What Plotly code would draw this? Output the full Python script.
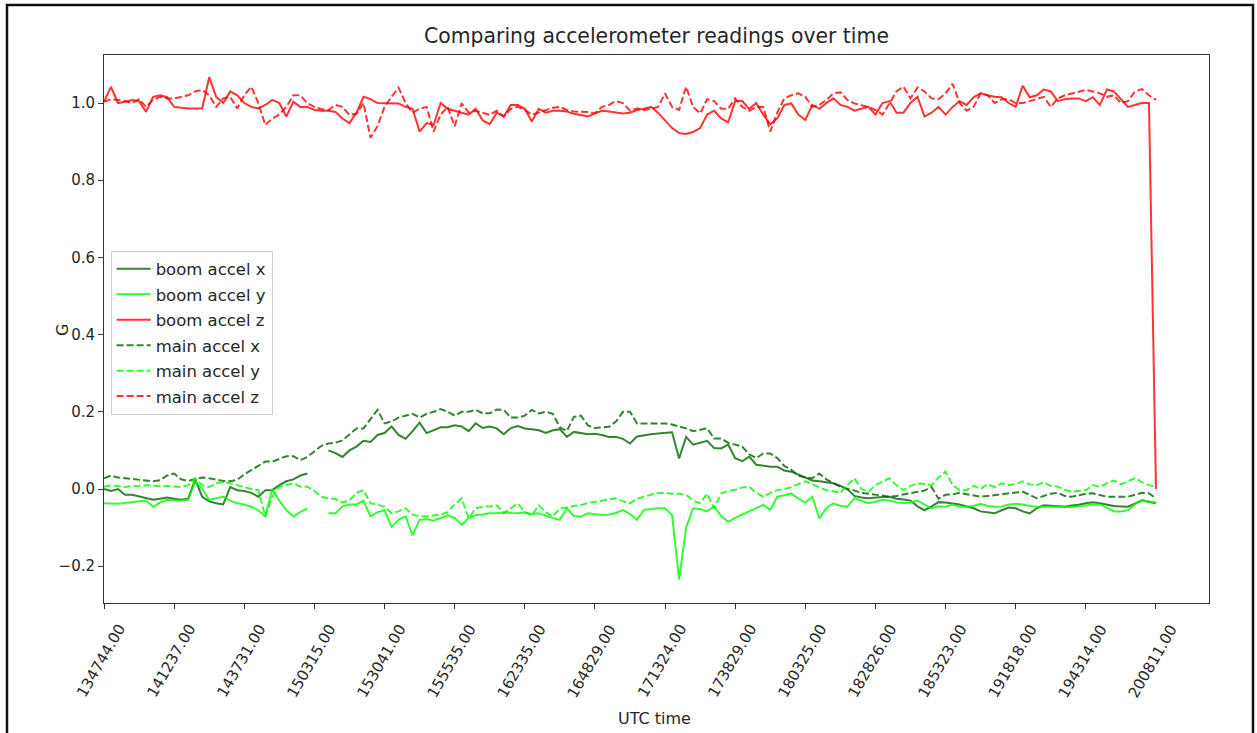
import plotly.graph_objects as go

nan = None

tick_labels = ["134744.00", "141237.00", "143731.00", "150315.00", "153041.00", "155535.00",
               "162335.00", "164829.00", "171324.00", "173829.00", "180325.00", "182826.00",
               "185323.00", "191818.00", "194314.00", "200811.00"]

boom_x = [
    0.0, -0.005, 0.0, -0.015, -0.015, -0.02, -0.025, -0.028, -0.025, -0.022,
    -0.025, -0.028, -0.025, 0.025, -0.02, -0.032, -0.037, -0.04, 0.005, -0.003,
    -0.005, -0.01, -0.02, -0.003, -0.003, 0.01, 0.02, 0.025, 0.035, 0.04,
    nan, nan, 0.1, 0.093, 0.083, 0.1, 0.11, 0.125, 0.122, 0.14,
    0.145, 0.162, 0.14, 0.13, 0.15, 0.172, 0.145, 0.152, 0.16, 0.16,
    0.165, 0.162, 0.15, 0.17, 0.158, 0.162, 0.157, 0.142, 0.158, 0.163,
    0.157, 0.155, 0.152, 0.145, 0.152, 0.155, 0.135, 0.148, 0.145, 0.142,
    0.143, 0.14, 0.135, 0.135, 0.13, 0.118, 0.136, 0.14, 0.142, 0.144,
    0.146, 0.147, 0.079, 0.135, 0.115, 0.12, 0.125, 0.106, 0.105, 0.115,
    0.08, 0.072, 0.084, 0.063, 0.06, 0.058, 0.058, 0.048, 0.045, 0.038,
    0.03, 0.022, 0.02, 0.017, 0.015, 0.008, 0.0, -0.018, -0.022, -0.024,
    -0.022, -0.021, -0.02, -0.025, -0.027, -0.03, -0.045, -0.055, -0.045, -0.034,
    -0.035, -0.037, -0.04, -0.045, -0.05, -0.058, -0.06, -0.063, -0.055, -0.048,
    -0.05, -0.058, -0.063, -0.05, -0.042, -0.043, -0.045, -0.046, -0.043, -0.041,
    -0.037, -0.034, -0.037, -0.04, -0.044, -0.045, -0.046, -0.038, -0.029, -0.033,
    -0.037]

boom_y = [
    -0.037, -0.038, -0.038, -0.036, -0.034, -0.032, -0.03, -0.046, -0.035, -0.028,
    -0.03, -0.03, -0.028, 0.02, 0.0, -0.028, -0.024, -0.02, -0.03, -0.037,
    -0.04, -0.046, -0.055, -0.071, 0.0, -0.03, -0.055, -0.071, -0.06, -0.05,
    nan, nan, -0.063, -0.063, -0.045, -0.04, -0.04, -0.03, -0.071, -0.06,
    -0.055, -0.098, -0.08, -0.071, -0.12, -0.08, -0.078, -0.082, -0.075, -0.068,
    -0.075, -0.093, -0.075, -0.067, -0.066, -0.063, -0.063, -0.06, -0.062, -0.063,
    -0.06, -0.065, -0.063, -0.07, -0.075, -0.08, -0.05, -0.07, -0.072, -0.063,
    -0.065, -0.067, -0.066, -0.062, -0.054, -0.065, -0.08, -0.054, -0.052, -0.05,
    -0.05, -0.067, -0.235, -0.1, -0.05, -0.052, -0.058, -0.045, -0.07, -0.085,
    -0.075, -0.067, -0.058, -0.05, -0.041, -0.054, -0.02, -0.016, -0.012, -0.025,
    -0.035, -0.02, -0.076, -0.05, -0.037, -0.044, -0.046, -0.024, -0.03, -0.037,
    -0.033, -0.028, -0.03, -0.035, -0.036, -0.035, -0.03, -0.04, -0.05, -0.045,
    -0.046, -0.04, -0.046, -0.046, -0.044, -0.038, -0.044, -0.046, -0.045, -0.04,
    -0.038, -0.04, -0.044, -0.046, -0.046, -0.045, -0.046, -0.046, -0.047, -0.045,
    -0.042, -0.04, -0.04, -0.05, -0.058, -0.058, -0.055, -0.04, -0.03, -0.033,
    -0.035]

boom_z = [
    1.003, 1.042, 1.0, 1.003, 1.008, 1.005, 0.977, 1.016, 1.02, 1.015,
    0.99, 0.988, 0.986, 0.986, 0.986, 1.067, 1.016, 1.0, 1.03, 1.02,
    1.0, 0.99, 0.986, 0.995, 1.008, 1.0, 0.965, 1.003, 0.99, 0.99,
    0.982, 0.98, 0.98, 0.977, 0.96, 0.948, 0.975, 1.016, 1.01, 1.0,
    1.0, 0.999, 0.999, 0.99, 0.985, 0.926, 0.948, 0.943, 1.0, 0.985,
    0.98, 0.975, 0.97, 0.985, 0.955, 0.945, 0.975, 0.965, 0.995, 0.995,
    0.985, 0.952, 0.985, 0.975, 0.98, 0.98, 0.978, 0.972, 0.968, 0.965,
    0.973, 0.98, 0.978, 0.976, 0.973, 0.975, 0.982, 0.985, 0.99, 0.975,
    0.955, 0.935, 0.922, 0.92, 0.925, 0.935, 0.97, 0.98, 0.96, 0.95,
    1.005, 1.005, 0.985, 1.0, 0.97, 0.945, 0.96, 0.995, 0.999, 0.97,
    0.956, 0.995, 0.985, 1.0, 1.012, 0.995, 0.99, 0.98, 0.985, 0.99,
    0.97, 1.0, 1.005, 0.975, 0.975, 1.0, 1.016, 0.965, 0.975, 0.99,
    0.97, 0.99, 1.005, 0.995, 1.015, 1.025, 1.02, 1.016, 1.015, 1.0,
    0.99, 1.045, 1.015, 1.02, 1.035, 1.03, 1.005, 1.01, 1.012, 1.012,
    1.005, 1.015, 0.995, 1.035, 1.03, 1.01, 0.99, 0.995, 1.0, 1.0,
    0.0]

main_x = [
    0.028, 0.035, 0.03, 0.028, 0.026, 0.025, 0.022, 0.02, 0.023, 0.035,
    0.04, 0.025, 0.021, 0.025, 0.03, 0.028, 0.025, 0.021, 0.02, 0.024,
    0.038, 0.048, 0.06, 0.071, 0.071, 0.078, 0.085, 0.085, 0.075, 0.083,
    0.097, 0.112, 0.118, 0.12, 0.126, 0.141, 0.157, 0.157, 0.18, 0.205,
    0.17, 0.175, 0.185, 0.19, 0.195, 0.185, 0.195, 0.2, 0.207, 0.2,
    0.19, 0.2, 0.2, 0.205, 0.196, 0.196, 0.206, 0.205, 0.185, 0.185,
    0.19, 0.205, 0.196, 0.2, 0.195, 0.16, 0.15, 0.187, 0.19, 0.165,
    0.158, 0.16, 0.161, 0.175, 0.2, 0.2, 0.17, 0.17, 0.17, 0.17,
    0.17, 0.167, 0.163, 0.157, 0.15, 0.153, 0.157, 0.131, 0.131, 0.12,
    0.114, 0.11, 0.09, 0.08, 0.092, 0.092, 0.08, 0.06, 0.05, 0.035,
    0.03, 0.028, 0.04, 0.025, 0.015, 0.006, 0.0, -0.004, -0.01, -0.012,
    -0.014, -0.017, -0.02, -0.018, -0.014, -0.01, -0.006, -0.004, 0.005, -0.025,
    -0.015, -0.014, -0.01, -0.014, -0.018, -0.02, -0.018, -0.016, -0.014, -0.012,
    -0.01, -0.007, -0.015, -0.024, -0.018, -0.012, -0.01, -0.018, -0.02, -0.016,
    -0.012, -0.011, -0.016, -0.02, -0.02, -0.02, -0.02, -0.015, -0.01, -0.011,
    -0.025]

main_y = [
    0.006, 0.01, 0.008, 0.005, 0.008, 0.008, 0.01, 0.008, 0.007, 0.008,
    0.006, 0.005, 0.01, 0.028, 0.01, 0.005, 0.015, 0.018, 0.015, 0.01,
    0.005, 0.0, -0.003, -0.071, -0.02, 0.006, 0.01, 0.015, 0.006, 0.006,
    -0.005, -0.02, -0.024, -0.026, -0.035, -0.03, -0.01, -0.003, -0.037, -0.04,
    -0.046, -0.063, -0.058, -0.05, -0.067, -0.07, -0.071, -0.068, -0.066, -0.06,
    -0.04, -0.024, -0.076, -0.05, -0.046, -0.045, -0.042, -0.063, -0.05, -0.037,
    -0.06, -0.068, -0.042, -0.06, -0.071, -0.05, -0.048, -0.044, -0.042, -0.036,
    -0.033, -0.03, -0.026, -0.024, -0.032, -0.037, -0.025, -0.02, -0.015, -0.01,
    -0.01, -0.012, -0.012, -0.015, -0.03, -0.037, -0.012, -0.05, -0.012, -0.005,
    -0.002, 0.004, 0.006, -0.01, -0.02, -0.01, -0.003, 0.0, 0.005, 0.012,
    0.02, 0.012, 0.005, -0.003, -0.006, -0.01, 0.01, 0.028, 0.0, -0.007,
    0.01, 0.02, 0.028, 0.01, -0.003, 0.008, 0.015, 0.013, 0.01, 0.03,
    0.045, 0.01, -0.003, -0.003, 0.008, 0.0, 0.012, 0.005, 0.015, 0.01,
    0.013, 0.02, 0.012, 0.01, 0.018, 0.008, 0.006, -0.002, -0.007, -0.005,
    -0.003, 0.01, 0.005, 0.015, 0.022, 0.012, 0.02, 0.028, 0.018, 0.01,
    0.006]

main_z = [
    1.003, 1.01, 1.008, 1.005, 1.0, 1.01, 0.99, 1.008, 1.016, 1.012,
    1.012, 1.016, 1.02, 1.03, 1.034, 1.02, 0.99, 1.012, 1.016, 0.986,
    1.02, 1.042, 1.0, 0.943, 0.96, 0.97, 0.99, 1.02, 1.02, 0.999,
    0.99, 0.984, 0.982, 0.995, 0.99, 0.969, 0.972, 1.0, 0.91, 0.94,
    0.99, 1.016, 1.04, 1.0, 0.975, 0.985, 0.99, 0.926, 0.97, 0.99,
    0.94, 0.999, 0.975, 0.98, 0.975, 0.969, 0.98, 0.965, 0.985, 0.99,
    0.982, 0.97, 0.975, 0.982, 0.988, 0.99, 0.982, 0.978, 0.977, 0.977,
    0.973, 0.99, 0.995, 1.005, 1.0, 0.98, 0.986, 0.982, 0.985, 0.99,
    1.025, 0.99, 0.982, 1.042, 0.99, 0.973, 1.01, 1.005, 0.985, 0.985,
    1.012, 0.99, 0.98, 0.99, 0.99, 0.926, 0.975, 1.012, 1.02, 1.025,
    1.016, 0.99, 0.995, 1.008, 1.025, 1.028, 1.008, 0.999, 0.994, 0.99,
    0.982, 0.97, 0.999, 1.03, 1.042, 1.012, 1.04, 1.03, 1.012, 1.01,
    1.025, 1.05, 1.0, 0.98, 0.99, 1.025, 1.02, 1.0, 1.01, 1.01,
    1.0, 1.0, 1.005, 1.01, 1.016, 0.99, 1.012, 1.02, 1.025, 1.03,
    1.034, 1.03, 1.025, 1.016, 1.02, 1.0, 1.005, 1.03, 1.036, 1.02,
    1.008]

x = list(range(len(boom_z)))
tick_pos = list(range(0, len(boom_z), 10))

DG = "rgba(0,100,0,0.8)"
LG = "rgba(0,255,0,0.8)"
RD = "rgba(255,0,0,0.8)"

series = [
    ("boom accel x", boom_x, DG, "solid"),
    ("boom accel y", boom_y, LG, "solid"),
    ("boom accel z", boom_z, RD, "solid"),
    ("main accel x", main_x, DG, "dash"),
    ("main accel y", main_y, LG, "dash"),
    ("main accel z", main_z, RD, "dash"),
]

fig = go.Figure()
for i, (name, vals, col, dash) in enumerate(series):
    fig.add_trace(go.Scatter(
        x=x, y=vals, mode="lines", name=name, legendgroup=str(i),
        line=dict(color=col, width=2, dash="solid" if dash == "solid" else "7px,3px"),
        connectgaps=False,
    ))

TXT = "#262626"
font_family = "DejaVu Sans, sans-serif"

# rotated x tick labels, centred under each tick (matplotlib style)
annotations = [
    dict(text=lab, xref="x", yref="paper", x=pos, y=(603 - 661) / 548,
         xanchor="center", yanchor="middle", textangle=-60, showarrow=False,
         xshift=-3, font=dict(size=15, color=TXT))
    for pos, lab in zip(tick_pos, tick_labels)
]
annotations += [
    dict(text="G", xref="paper", yref="paper", x=(62 - 104) / 1105, y=(603 - 330) / 548,
         xanchor="center", yanchor="middle", textangle=-90, showarrow=False,
         font=dict(size=16, color=TXT)),
    dict(text="UTC time", xref="paper", yref="paper", x=(654 - 104) / 1105, y=(603 - 718) / 548,
         xanchor="center", yanchor="middle", showarrow=False,
         font=dict(size=16, color=TXT)),
]

fig.update_layout(
    width=1257, height=733,
    margin=dict(l=104, r=48, t=55, b=130),
    paper_bgcolor="white", plot_bgcolor="white",
    font=dict(family=font_family, size=16, color=TXT),
    title=dict(text="Comparing accelerometer readings over time", x=0.5, xanchor="center",
               xref="paper", y=1 - 36 / 733, yanchor="middle", font=dict(size=20.4, color=TXT)),
    showlegend=True,
    legend=dict(x=0.006, y=0.643, xanchor="left", yanchor="top",
                bgcolor="rgba(255,255,255,0.8)", bordercolor="#d0d0d0", borderwidth=1,
                font=dict(size=16.5, color=TXT), traceorder="grouped",
                tracegroupgap=1, itemwidth=34),
    xaxis=dict(range=[0, 157.56], tickmode="array",
               tickvals=tick_pos, showticklabels=False,
               showgrid=False, zeroline=False,
               showline=True, linecolor="#333", linewidth=1, mirror=True,
               ticks="outside", ticklen=5, tickcolor="#333"),
    yaxis=dict(range=[-0.2953, 1.1244], tickmode="array",
               tickvals=[-0.2, 0.0, 0.2, 0.4, 0.6, 0.8, 1.0],
               ticktext=["\u22120.2", "0.0", "0.2", "0.4", "0.6", "0.8", "1.0"],
               showgrid=False, zeroline=False,
               showline=True, linecolor="#333", linewidth=1, mirror=True,
               ticks="outside", ticklen=5, tickcolor="#333",
               tickfont=dict(size=15)),
    annotations=annotations,
    shapes=[dict(type="rect", xref="paper", yref="paper",
                 x0=(7 - 104) / 1105, x1=(1253 - 104) / 1105,
                 y0=(603 - 760) / 548, y1=(603 - 5) / 548,
                 line=dict(color="#111", width=2.5), fillcolor="rgba(0,0,0,0)", layer="below")],
)

fig.write_html("out.html", config={"displayModeBar": False},
               post_script="document.body.style.margin='0';document.body.style.overflow='hidden';")
